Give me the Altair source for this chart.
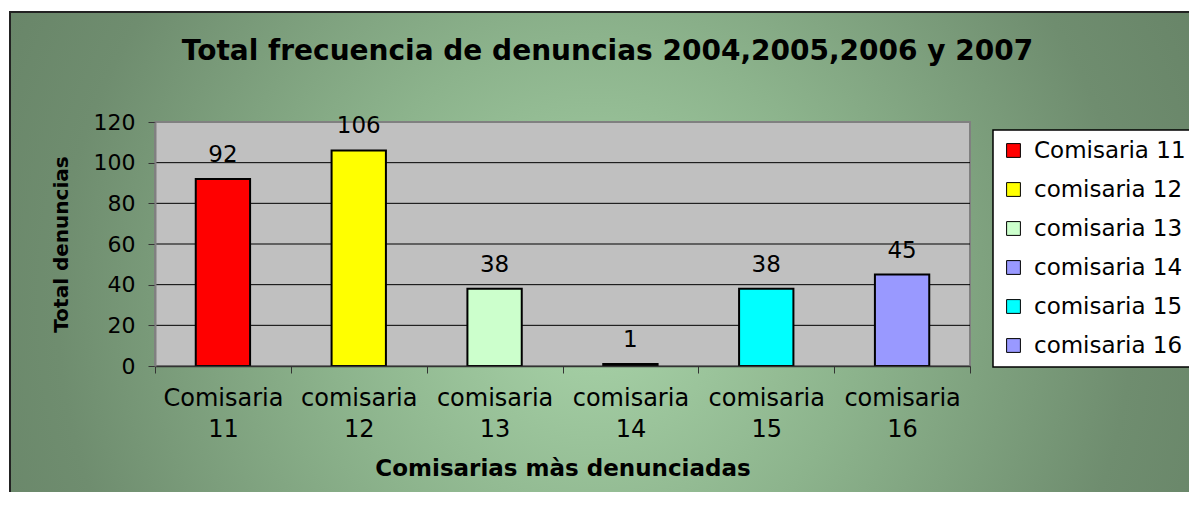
import altair as alt
import pandas as pd

categories = ["Comisaria 11", "comisaria 12", "comisaria 13", "comisaria 14", "comisaria 15", "comisaria 16"]
values = [92, 106, 38, 1, 38, 45]
colors = ["#FF0000", "#FFFF00", "#CCFFCC", "#9999FF", "#00FFFF", "#9999FF"]
y_ticks = [0, 20, 40, 60, 80, 100, 120]
grid_values = [20, 40, 60, 80, 100]
title_text = "Total frecuencia de denuncias 2004,2005,2006 y 2007"

W, H = 815, 244
FONT = "DejaVu Sans"

df = pd.DataFrame({"cat": categories, "value": values})
grid_df = pd.DataFrame({"value": grid_values})

yscale = alt.Scale(domain=[0, 120], nice=False, zero=True)
xscale = alt.Scale(domain=categories, paddingInner=0, paddingOuter=0)

x_axis = alt.Axis(
    title="Comisarias màs denunciadas",
    titleFont=FONT, titleFontSize=23, titleFontWeight="bold", titleColor="black",
    titlePadding=16,
    labelExpr="split(datum.label, ' ')",
    labelFont=FONT, labelFontSize=24, labelColor="black", labelAngle=0,
    labelLineHeight=31, labelPadding=13,
    tickBand="extent", tickSize=7, tickColor="#333333",
    domainColor="#333333", domainWidth=1.5, zindex=1,
)
y_axis = alt.Axis(
    title="Total denuncias",
    titleFont=FONT, titleFontSize=20, titleFontWeight="bold", titleColor="black",
    titlePadding=22,
    values=y_ticks, grid=False,
    labelFont=FONT, labelFontSize=22, labelColor="black", labelPadding=13,
    tickSize=7, tickColor="#333333",
    domainColor="#808080", domainWidth=2, zindex=1,
)

grad = alt.RadialGradient(
    gradient="radial",
    stops=[
        alt.GradientStop(color="#A9D4A9", offset=0),
        alt.GradientStop(color="#8CB38C", offset=0.3),
        alt.GradientStop(color="#6F8D6F", offset=0.6),
        alt.GradientStop(color="#5C765C", offset=1),
    ],
    x1=0.47, y1=0.53, r1=0, x2=0.47, y2=0.53, r2=0.72,
)

bg = alt.Chart(alt.Data(values=[{"a": 1}])).mark_rect(
    fill=grad, stroke="#222222", strokeWidth=2
).encode(
    x=alt.value(-145), x2=alt.value(1100), y=alt.value(-110), y2=alt.value(400)
)

plot_area = alt.Chart(alt.Data(values=[{"a": 1}])).mark_rect(
    fill="#C0C0C0", stroke="#808080", strokeWidth=2
).encode(
    x=alt.value(0), x2=alt.value(W), y=alt.value(0), y2=alt.value(H)
)

grid = alt.Chart(grid_df).mark_rule(color="black", strokeWidth=1).encode(
    y=alt.Y("value:Q", scale=yscale, axis=y_axis)
)

bars = alt.Chart(df).mark_bar(
    stroke="black", strokeWidth=2, width=alt.RelativeBandSize(0.4)
).encode(
    x=alt.X("cat:N", scale=xscale, sort=categories, axis=x_axis),
    y=alt.Y("value:Q", scale=yscale, axis=y_axis),
    color=alt.Color(
        "cat:N", sort=categories,
        scale=alt.Scale(domain=categories, range=colors),
        legend=alt.Legend(
            orient="none", legendX=838, legendY=8, title=None,
            symbolType="square", symbolSize=190, symbolStrokeColor="black",
            symbolStrokeWidth=1, symbolOpacity=1,
            labelFont=FONT, labelFontSize=23, labelColor="black", labelOffset=9,
            rowPadding=15, padding=9,
            fillColor="white", strokeColor="black",
        ),
    ),
)

labels = alt.Chart(df).mark_text(
    font=FONT, fontSize=23, color="black", baseline="bottom", dy=-12
).encode(
    x=alt.X("cat:N", scale=xscale, sort=categories, axis=x_axis),
    y=alt.Y("value:Q", scale=yscale, axis=y_axis),
    text=alt.Text("value:Q"),
)

chart = alt.layer(bg, plot_area, grid, bars, labels).properties(
    width=W, height=H,
    autosize=alt.AutoSizeParams(type="none"),
    padding={"left": 147, "top": 114, "right": 219, "bottom": 126},
    title=alt.TitleParams(
        text=title_text, font=FONT, fontSize=28, fontWeight="bold", color="black",
        anchor="middle", frame="group", dx=45, offset=-83, baseline="bottom",
    ),
).configure_view(stroke=None).configure_legend(strokeWidth=1.5)

chart.save("out.html", embed_options={"renderer": "svg", "actions": False})
